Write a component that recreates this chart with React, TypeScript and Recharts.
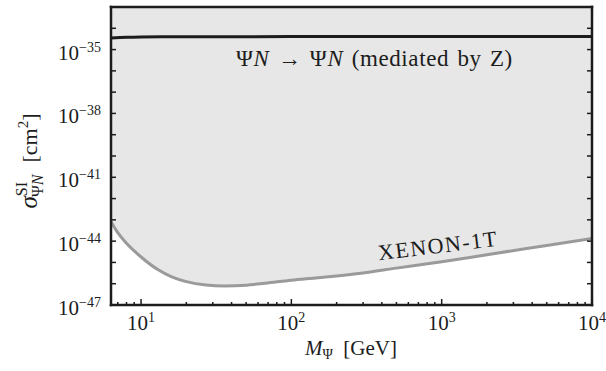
import React from "react";
import { ComposedChart, Area, Line, XAxis, YAxis } from "recharts";

// XENON-1T spin-independent limit (GeV, cm^2)
const xenonMass = [6.31, 7, 8, 10, 13, 16, 20, 27, 36, 50, 67, 100, 150, 290, 500, 1000, 2000, 5000, 10000];
const xenonSigma = [
  8.1e-44, 2.5e-44, 7.9e-45, 1.8e-45, 4.5e-46, 2.1e-46, 1.26e-46, 8.7e-47, 7.8e-47, 8.5e-47,
  1.05e-46, 1.45e-46, 1.9e-46, 3.1e-46, 5.4e-46, 1.07e-45, 2.3e-45, 6.3e-45, 1.35e-44,
];

// Z-mediated cross section
const zMass = [6.31, 8, 10, 15, 30, 100, 1000, 10000];
const zSigma = [3.45e-35, 3.75e-35, 3.9e-35, 3.98e-35, 4.03e-35, 4.07e-35, 4.1e-35, 4.12e-35];

const xTicks = [
  7, 8, 9, 10, 20, 30, 40, 50, 60, 70, 80, 90, 100, 200, 300, 400, 500, 600, 700, 800, 900,
  1000, 2000, 3000, 4000, 5000, 6000, 7000, 8000, 9000, 10000,
];
const xLabelExps = [1, 2, 3, 4];
const yTicks = [
  1e-47, 1e-46, 1e-45, 1e-44, 1e-43, 1e-42, 1e-41, 1e-40, 1e-39, 1e-38, 1e-37, 1e-36, 1e-35,
  1e-34, 1e-33,
];
const yLabelExps = [-47, -44, -41, -38, -35];

const X_DOMAIN = [6.31, 10000];
const Y_DOMAIN = [1e-47, 1e-33];

const INK = "#1c1c1c";
const FONT = "'Liberation Serif', 'DejaVu Serif', serif";
const FS = 21;
const SUP = 14;

const xenonData = xenonMass.map((m, i) => ({ m, sigma: xenonSigma[i], band: [xenonSigma[i], Y_DOMAIN[1]] }));
const zData = zMass.map((m, i) => ({ m, sigma: zSigma[i] }));

const expOf = (v: number) => Math.round(Math.log10(v));
const isDecade = (v: number) => Math.abs(Math.log10(v) - expOf(v)) < 1e-6;
const fmtExp = (e: number) => (e < 0 ? "\u2212" + Math.abs(e) : String(e));

const BottomTick = ({ x, y, payload }: any) => {
  const v = payload.value;
  const major = isDecade(v);
  const e = expOf(v);
  return (
    <g>
      <line x1={x} x2={x} y1={y} y2={y - (major ? 6 : 3)} stroke={INK} strokeWidth={1.5} />
      {major && xLabelExps.includes(e) && (
        <text x={x} y={y + 25} textAnchor="middle" fontFamily={FONT} fontSize={FS} fill={INK}>
          <tspan>10</tspan>
          <tspan dy={-8} fontSize={SUP}>{fmtExp(e)}</tspan>
        </text>
      )}
    </g>
  );
};

const TopTick = ({ x, y, payload }: any) => {
  const major = isDecade(payload.value);
  return <line x1={x} x2={x} y1={y} y2={y + (major ? 6 : 3)} stroke={INK} strokeWidth={1.5} />;
};

const LeftTick = ({ x, y, payload }: any) => {
  const e = expOf(payload.value);
  return (
    <g>
      <line x1={x} x2={x + 5} y1={y} y2={y} stroke={INK} strokeWidth={1.5} />
      {yLabelExps.includes(e) && (
        <text x={x - 10} y={y + 10} textAnchor="end" fontFamily={FONT} fontSize={FS} fill={INK}>
          <tspan>10</tspan>
          <tspan dy={-8} fontSize={SUP}>{fmtExp(e)}</tspan>
        </text>
      )}
    </g>
  );
};

const RightTick = ({ x, y }: any) => (
  <line x1={x} x2={x - 5} y1={y} y2={y} stroke={INK} strokeWidth={1.5} />
);

const frame = { stroke: INK, strokeWidth: 2.5, strokeLinecap: "square" as const };

export default function App() {
  return (
    <div style={{ position: "absolute", left: 0, top: 0, width: 606, height: 371 }}>
      <ComposedChart width={606} height={371} margin={{ top: 6, right: 13, bottom: 36, left: 51 }}>
        <XAxis
          xAxisId="b"
          dataKey="m"
          type="number"
          scale="log"
          domain={X_DOMAIN}
          allowDataOverflow
          ticks={xTicks}
          interval={0}
          height={30}
          tickSize={0}
          tickMargin={0}
          tickLine={false}
          axisLine={frame}
          tick={<BottomTick />}
        />
        <XAxis
          xAxisId="t"
          orientation="top"
          type="number"
          scale="log"
          domain={X_DOMAIN}
          allowDataOverflow
          ticks={xTicks}
          interval={0}
          height={1}
          tickSize={0}
          tickMargin={0}
          tickLine={false}
          axisLine={frame}
          tick={<TopTick />}
        />
        <YAxis
          yAxisId="l"
          type="number"
          scale="log"
          domain={Y_DOMAIN}
          allowDataOverflow
          ticks={yTicks}
          interval={0}
          width={60}
          tickSize={0}
          tickMargin={0}
          tickLine={false}
          axisLine={frame}
          tick={<LeftTick />}
        />
        <YAxis
          yAxisId="r"
          orientation="right"
          type="number"
          scale="log"
          domain={Y_DOMAIN}
          allowDataOverflow
          ticks={yTicks}
          interval={0}
          width={1}
          tickSize={0}
          tickMargin={0}
          tickLine={false}
          axisLine={frame}
          tick={<RightTick />}
        />
        <Area
          xAxisId="b"
          yAxisId="l"
          data={xenonData}
          dataKey="band"
          type="monotone"
          fill="#e6e7e6"
          fillOpacity={1}
          stroke="none"
          isAnimationActive={false}
        />
        <Line
          xAxisId="b"
          yAxisId="l"
          data={xenonData}
          dataKey="sigma"
          type="monotone"
          stroke="#9a9a9a"
          strokeWidth={3}
          dot={false}
          isAnimationActive={false}
        />
        <Line
          xAxisId="b"
          yAxisId="l"
          data={zData}
          dataKey="sigma"
          type="monotone"
          stroke={INK}
          strokeWidth={3}
          dot={false}
          isAnimationActive={false}
        />
      </ComposedChart>
      <svg
        width={606}
        height={371}
        style={{ position: "absolute", left: 0, top: 0, pointerEvents: "none" }}
      >
        <text
          x={236}
          y={66}
          fontFamily={FONT}
          fontSize={23}
          letterSpacing={0.6}
          wordSpacing={2}
          fill={INK}
          style={{ whiteSpace: "pre" }}
        >
          <tspan>Ψ</tspan>
          <tspan fontStyle="italic">N</tspan>
          <tspan> → Ψ</tspan>
          <tspan fontStyle="italic">N</tspan>
          <tspan> (mediated by Z)</tspan>
        </text>
        <text
          x={439}
          y={253}
          textAnchor="middle"
          fontFamily={FONT}
          fontSize={22}
          letterSpacing={1.5}
          fill={INK}
          transform="rotate(-7 439 253)"
        >
          XENON-1T
        </text>
        <text x={351} y={355} textAnchor="middle" fontFamily={FONT} fontSize={FS} fill={INK} style={{ whiteSpace: "pre" }}>
          <tspan fontStyle="italic">M</tspan>
          <tspan dy={4} fontSize={SUP}>Ψ</tspan>
          <tspan dy={-4}>  [GeV]</tspan>
        </text>
        <text
          x={37}
          y={161}
          textAnchor="middle"
          fontFamily={FONT}
          fontSize={25}
          fill={INK}
          transform="rotate(-90 37 161)"
          style={{ whiteSpace: "pre" }}
        >
          <tspan fontStyle="italic">σ</tspan>
          <tspan dy={-10} fontSize={16}>SI</tspan>
          <tspan dx={-15} dy={16} fontSize={16}>Ψ</tspan>
          <tspan fontSize={16} fontStyle="italic">N</tspan>
          <tspan dx={12} dy={-6} fontSize={22}>[cm</tspan>
          <tspan dy={-9} fontSize={15}>2</tspan>
          <tspan dy={9} fontSize={22}>]</tspan>
        </text>
      </svg>
    </div>
  );
}
